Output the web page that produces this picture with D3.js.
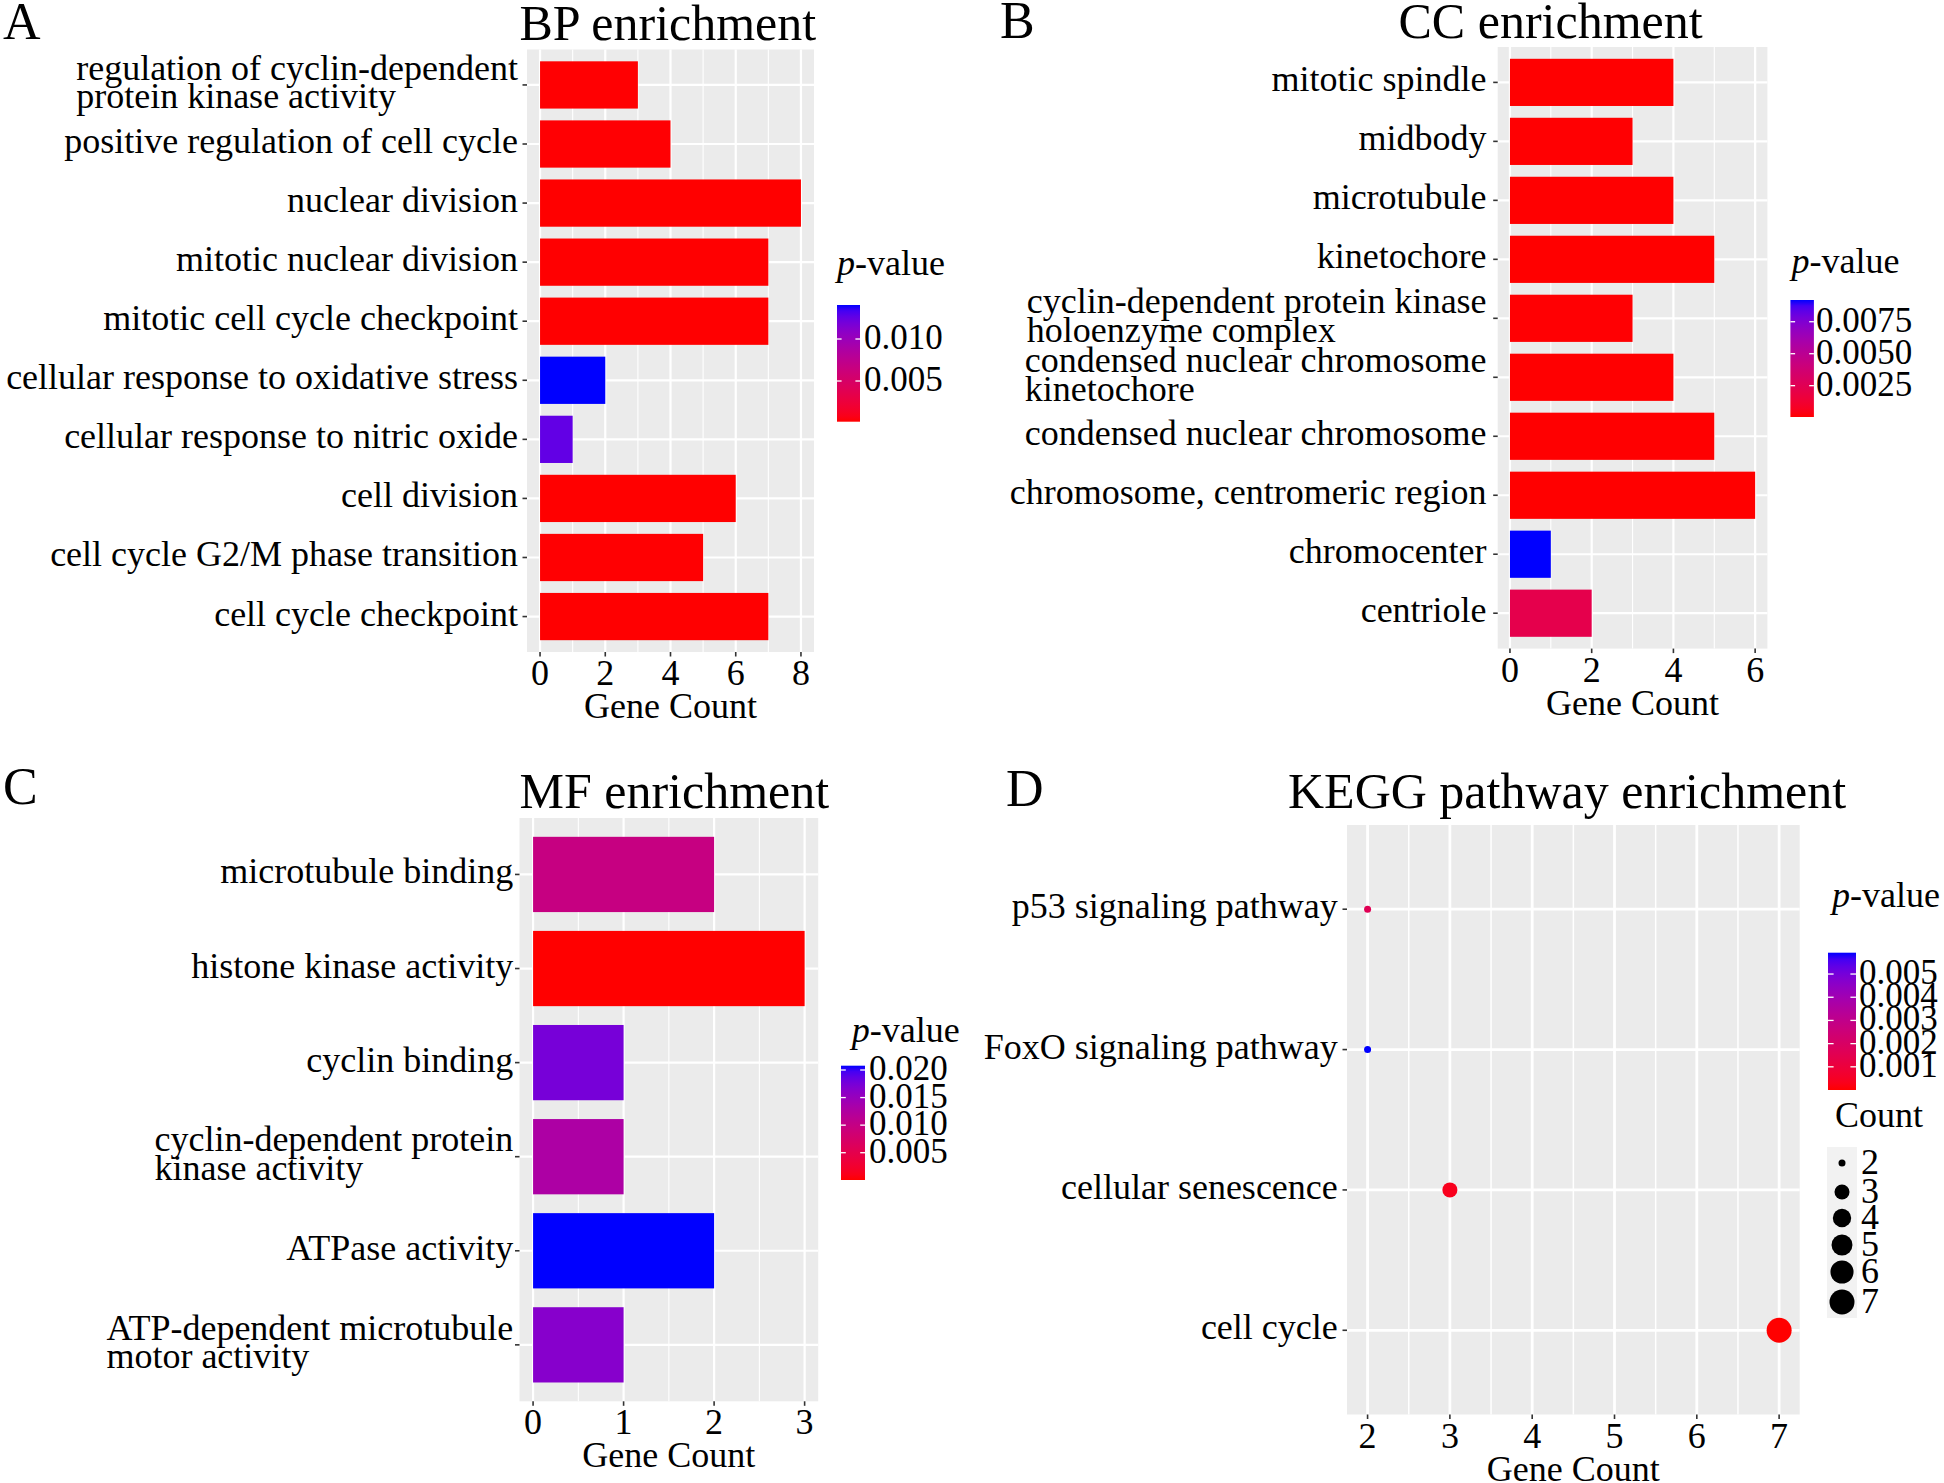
<!DOCTYPE html>
<html><head><meta charset="utf-8">
<script src="https://cdn.jsdelivr.net/npm/d3@7"></script>
<style>
body{margin:0;background:#fff}
svg{display:block}
text{font-family:'Liberation Serif','Times New Roman',serif;fill:#000}
</style>
</head><body>
<svg id="chart" width="1944" height="1483"></svg>
<script>
// ---------------- DATA ----------------
const bpTerms = ["regulation of cyclin-dependent\nprotein kinase activity","positive regulation of cell cycle","nuclear division","mitotic nuclear division","mitotic cell cycle checkpoint","cellular response to oxidative stress","cellular response to nitric oxide","cell division","cell cycle G2/M phase transition","cell cycle checkpoint"];
const bpCounts = [3,4,8,7,7,2,1,6,5,7];
const bpPvalues = [0.00019,0.00022,0.000155,0.00017,0.00018,0.01405,0.0126,0.00016,0.00021,0.00017];
const bpTicks = [0,2,4,6,8];
const bpMinor = [1,3,5,7];
const bpLegendTicks = [0.005,0.010];

const ccTerms = ["mitotic spindle","midbody","microtubule","kinetochore","cyclin-dependent protein kinase\nholoenzyme complex","condensed nuclear chromosome\nkinetochore","condensed nuclear chromosome","chromosome, centromeric region","chromocenter","centriole"];
const ccCounts = [4,3,4,5,3,4,5,6,1,2];
const ccPvalues = [0.00007,0.00008,0.00006,0.00005,0.00009,0.00006,0.00007,0.00005,0.0092,0.0022];
const ccTicks = [0,2,4,6];
const ccMinor = [1,3,5];
const ccLegendTicks = [0.0025,0.0050,0.0075];

const mfTerms = ["microtubule binding","histone kinase activity","cyclin binding","cyclin-dependent protein\nkinase activity","ATPase activity","ATP-dependent microtubule\nmotor activity"];
const mfCounts = [2,3,1,1,2,1];
const mfPvalues = [0.0098,0.00005,0.0175,0.0129,0.02078,0.0164];
const mfTicks = [0,1,2,3];
const mfMinor = [0.5,1.5,2.5];
const mfLegendTicks = [0.005,0.010,0.015,0.020];

const keggTerms = ["p53 signaling pathway","FoxO signaling pathway","cellular senescence","cell cycle"];
const keggCounts = [2,2,3,7];
const keggPvalues = [0.0016,0.00592,0.00035,0.000001];
const keggTicks = [2,3,4,5,6,7];
const keggMinor = [2.5,3.5,4.5,5.5,6.5];
const keggLegendTicks = [0.001,0.002,0.003,0.004,0.005];
const keggSizeBreaks = [2,3,4,5,6,7];

// ---------------- LAYOUT ----------------
const svg = d3.select("#chart");
const defs = svg.append("defs");
const PANEL_BG = "#EBEBEB";

function colorFor(ext){
  return d3.scaleLinear().domain(ext).range(["#FF0000","#0000FF"]).interpolate(d3.interpolateLab);
}
function addText(x,y,s,size,anchor){
  return svg.append("text").attr("x",x).attr("y",y).attr("font-size",size)
    .attr("text-anchor",anchor||"start").text(s);
}
function catLabel(cfg, term, cy){
  const lines = term.split("\n");
  const n = lines.length;
  const first = svg.append("text").attr("x",cfg.labelX).attr("y",cy+9-(n-1)/2*28.5)
    .attr("font-size",36).attr("text-anchor","end").text(lines[0]);
  if(n>1){
    const w = first.node().getComputedTextLength();
    for(let i=1;i<n;i++){
      svg.append("text").attr("x",cfg.labelX-w).attr("y",cy+9+(i-(n-1)/2)*28.5)
        .attr("font-size",36).text(lines[i]);
    }
  }
}
function drawLegend(cfg, color, ext, ticks, fmt){
  const L = cfg.legend;
  const id = "grad"+cfg.id;
  const g = defs.append("linearGradient").attr("id",id).attr("x1",0).attr("y1",1).attr("x2",0).attr("y2",0);
  d3.range(0,1.0001,0.05).forEach(t=>g.append("stop").attr("offset",t).attr("stop-color",color(ext[0]+t*(ext[1]-ext[0]))));
  svg.append("rect").attr("x",L.x).attr("y",L.y0).attr("width",L.w).attr("height",L.y1-L.y0).attr("fill",`url(#${id})`);
  const ly = d3.scaleLinear().domain(ext).range([L.y1,L.y0]);
  const tl = L.w/5;
  ticks.forEach(v=>{
    const y = ly(v);
    svg.append("line").attr("x1",L.x).attr("x2",L.x+tl).attr("y1",y).attr("y2",y).attr("stroke","#fff").attr("stroke-width",1.3);
    svg.append("line").attr("x1",L.x+L.w-tl).attr("x2",L.x+L.w).attr("y1",y).attr("y2",y).attr("stroke","#fff").attr("stroke-width",1.3);
    addText(L.labelX, y+10, fmt(v), L.fs||35);
  });
  const t = svg.append("text").attr("x",L.tx).attr("y",L.ty).attr("font-size",36);
  t.append("tspan").attr("font-style","italic").text("p");
  t.append("tspan").text("-value");
}
function drawFrame(cfg, x, yPos, terms, ticks, minor){
  svg.append("rect").attr("x",cfg.x0).attr("y",cfg.y0).attr("width",cfg.x1-cfg.x0).attr("height",cfg.y1-cfg.y0).attr("fill",PANEL_BG);
  minor.forEach(v=>svg.append("line").attr("x1",x(v)).attr("x2",x(v)).attr("y1",cfg.y0).attr("y2",cfg.y1).attr("stroke","#fff").attr("stroke-width",cfg.minW));
  ticks.forEach(v=>svg.append("line").attr("x1",x(v)).attr("x2",x(v)).attr("y1",cfg.y0).attr("y2",cfg.y1).attr("stroke","#fff").attr("stroke-width",cfg.majW));
  terms.forEach(t=>svg.append("line").attr("x1",cfg.x0).attr("x2",cfg.x1).attr("y1",yPos(t)).attr("y2",yPos(t)).attr("stroke","#fff").attr("stroke-width",cfg.majW));
}
function drawAxes(cfg, x, yPos, terms, ticks){
  terms.forEach(t=>{
    const cy = yPos(t);
    svg.append("line").attr("x1",cfg.x0-4.5).attr("x2",cfg.x0).attr("y1",cy).attr("y2",cy).attr("stroke","#333").attr("stroke-width",1.6);
    catLabel(cfg,t,cy);
  });
  ticks.forEach(v=>{
    svg.append("line").attr("x1",x(v)).attr("x2",x(v)).attr("y1",cfg.y1).attr("y2",cfg.y1+4.5).attr("stroke","#333").attr("stroke-width",1.6);
    addText(x(v), cfg.y1+33, String(v), 36, "middle");
  });
  addText((cfg.x0+cfg.x1)/2, cfg.y1+66, "Gene Count", 36, "middle");
  addText(cfg.title.x, cfg.title.y, cfg.title.text, 50);
  addText(cfg.letter.x, cfg.letter.y, cfg.letter.text, 52);
}
function drawBars(cfg, terms, counts, pvals, ticks, minor, legendTicks, fmt){
  const ext = d3.extent(pvals);
  const color = colorFor(ext);
  const maxC = d3.max(counts);
  const x = d3.scaleLinear().domain([-0.05*maxC, maxC*1.05]).range([cfg.x0,cfg.x1]);
  const y = d3.scaleBand().domain(terms).range([cfg.y0,cfg.y1]).paddingInner(0.2).paddingOuter(0.2);
  const yc = t=>y(t)+y.bandwidth()/2;
  drawFrame(cfg,x,yc,terms,ticks,minor);
  svg.append("g").selectAll("rect").data(terms).join("rect")
    .attr("x",x(0)).attr("y",t=>y(t)).attr("height",y.bandwidth())
    .attr("width",(t,i)=>x(counts[i])-x(0)).attr("fill",(t,i)=>color(pvals[i]));
  drawAxes(cfg,x,yc,terms,ticks);
  drawLegend(cfg,color,ext,legendTicks,fmt);
}

const panelA = {id:"A",x0:527,x1:814,y0:49.5,y1:652,labelX:518,majW:2.2,minW:1.1,
  title:{x:519.5,y:40,text:"BP enrichment"},letter:{x:3,y:39,text:"A"},
  legend:{x:837,w:23,y0:305,y1:421.7,tx:837,ty:275,labelX:864}};
const panelB = {id:"B",x0:1497.7,x1:1767.4,y0:47,y1:648.6,labelX:1486.6,majW:2.2,minW:1.1,
  title:{x:1398.5,y:38,text:"CC enrichment"},letter:{x:1000,y:38,text:"B"},
  legend:{x:1790.4,w:23.5,y0:300,y1:417,tx:1791.6,ty:272.6,labelX:1816}};
const panelC = {id:"C",x0:519.5,x1:818.2,y0:818,y1:1401.3,labelX:513.3,majW:2.2,minW:1.1,
  title:{x:519.5,y:808.4,text:"MF enrichment"},letter:{x:3,y:804,text:"C"},
  legend:{x:841,w:24,y0:1065.7,y1:1180,tx:851.7,ty:1041.7,labelX:869}};
const panelD = {id:"D",x0:1347,x1:1799.7,y0:825,y1:1414.5,labelX:1337.8,majW:2.8,minW:1.5,
  title:{x:1288,y:808.4,text:"KEGG pathway enrichment"},letter:{x:1006,y:806,text:"D"},
  legend:{x:1828,w:28,y0:952.7,y1:1090,tx:1832,ty:907,labelX:1859,fs:35},
  size:{tx:1835,ty:1127,keyX:1827,keyW:30,keyY0:1147,keyY1:1318,keyCY:[1163,1192,1218,1245,1272,1302],labelX:1861}};

drawBars(panelA,bpTerms,bpCounts,bpPvalues,bpTicks,bpMinor,bpLegendTicks,d3.format(".3f"));
drawBars(panelB,ccTerms,ccCounts,ccPvalues,ccTicks,ccMinor,ccLegendTicks,d3.format(".4f"));
drawBars(panelC,mfTerms,mfCounts,mfPvalues,mfTicks,mfMinor,mfLegendTicks,d3.format(".3f"));

// ---- Panel D: dot plot ----
(function(){
  const cfg = panelD;
  const ext = d3.extent(keggPvalues);
  const color = colorFor(ext);
  const cExt = d3.extent(keggTicks);
  const pad = 0.05*(cExt[1]-cExt[0]);
  const x = d3.scaleLinear().domain([cExt[0]-pad,cExt[1]+pad]).range([cfg.x0,cfg.x1]);
  const y = d3.scalePoint().domain(keggTerms).range([cfg.y0,cfg.y1]).padding(0.6);
  const sExt = d3.extent(keggSizeBreaks);
  const extra = d3.scaleSqrt().domain([0,sExt[1]-sExt[0]]).range([0,9]);
  const r = v=>3.5+extra(v-sExt[0]);
  drawFrame(cfg,x,y,keggTerms,keggTicks,keggMinor);
  svg.append("g").selectAll("circle").data(keggTerms).join("circle")
    .attr("cx",(t,i)=>x(keggCounts[i])).attr("cy",t=>y(t)).attr("r",(t,i)=>r(keggCounts[i]))
    .attr("fill",(t,i)=>color(keggPvalues[i]));
  drawAxes(cfg,x,y,keggTerms,keggTicks);
  drawLegend(cfg,color,ext,keggLegendTicks,d3.format(".3f"));
  const S = cfg.size;
  addText(S.tx,S.ty,"Count",36);
  svg.append("rect").attr("x",S.keyX).attr("y",S.keyY0).attr("width",S.keyW).attr("height",S.keyY1-S.keyY0).attr("fill","#F2F2F2");
  keggSizeBreaks.forEach((v,i)=>{
    svg.append("circle").attr("cx",S.keyX+S.keyW/2).attr("cy",S.keyCY[i]).attr("r",r(v)).attr("fill","#000");
    addText(S.labelX,S.keyCY[i]+11,String(v),36);
  });
})();
</script>
</body></html>
